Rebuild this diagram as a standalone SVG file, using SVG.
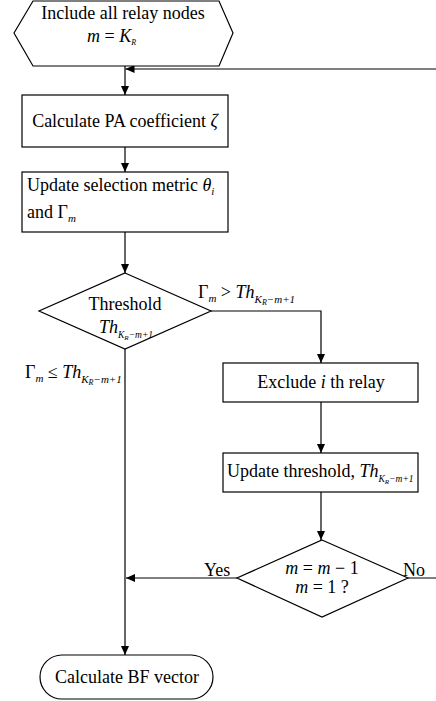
<svg xmlns="http://www.w3.org/2000/svg" width="436" height="701" viewBox="0 0 436 701" font-family="'Liberation Serif', serif">
<style>
.shape{fill:#fff;stroke:#000;stroke-width:1.2}
.line{fill:none;stroke:#000;stroke-width:1.2}
text{font-family:"Liberation Serif",serif;font-size:18px;fill:#000}
.c{text-anchor:middle}
.i{font-style:italic}
.s{font-size:11px;font-style:italic}
.ss{font-size:8px;font-style:italic}
.s2{font-size:9.5px;font-style:italic}
.ss2{font-size:7px;font-style:italic}
</style>
<defs>
<marker id="arr" markerWidth="10" markerHeight="8" refX="9" refY="4" orient="auto" markerUnits="userSpaceOnUse">
<path d="M0,0 L9,4 L0,8 Z" fill="#000"/>
</marker>
</defs>
<rect width="436" height="701" fill="#fff"/>
<g id="connectors">
<line class="line" x1="125" y1="66" x2="125" y2="95" marker-end="url(#arr)"/>
<path class="line" d="M408,578 L440,578 L440,69 L125.5,69" marker-end="url(#arr)"/>
<line class="line" x1="125" y1="147" x2="125" y2="172" marker-end="url(#arr)"/>
<line class="line" x1="125" y1="232" x2="125" y2="273" marker-end="url(#arr)"/>
<path class="line" d="M211,311 L321,311 L321,363" marker-end="url(#arr)"/>
<line class="line" x1="125" y1="349" x2="125" y2="655" marker-end="url(#arr)"/>
<line class="line" x1="321" y1="402" x2="321" y2="453" marker-end="url(#arr)"/>
<line class="line" x1="321" y1="492" x2="321" y2="540" marker-end="url(#arr)"/>
<line class="line" x1="237" y1="578" x2="126" y2="578" marker-end="url(#arr)"/>
<text x="198" y="298">Γ<tspan class="s" dy="4">m</tspan><tspan dy="-4"> &gt; </tspan><tspan class="i">Th</tspan><tspan class="s" dy="5">K</tspan><tspan class="ss" dy="2">R</tspan><tspan class="s" dy="-2">−m+1</tspan></text>
<text x="25" y="378">Γ<tspan class="s" dy="4">m</tspan><tspan dy="-4"> ≤ </tspan><tspan class="i">Th</tspan><tspan class="s" dy="5">K</tspan><tspan class="ss" dy="2">R</tspan><tspan class="s" dy="-2">−m+1</tspan></text>
<text x="204" y="576">Yes</text>
<text x="403" y="576">No</text>
</g>
<g id="start">
<polygon class="shape" points="14,33 33,1 219,1 233,33 219,66 33,66"/>
<text x="123" y="19" class="c">Include all relay nodes</text>
<text x="87" y="42"><tspan class="i">m</tspan> = <tspan class="i">K</tspan><tspan class="ss" dy="3">R</tspan></text>
</g>
<g id="pa">
<rect class="shape" x="22" y="95" width="206" height="52"/>
<text x="125" y="127" class="c">Calculate PA coefficient <tspan class="i">ζ</tspan></text>
</g>
<g id="update-metric">
<rect class="shape" x="22" y="172" width="206" height="60"/>
<text x="27" y="191" font-size="17.5">Update selection metric <tspan class="i">θ</tspan><tspan class="s" dy="4">i</tspan></text>
<text x="27" y="218">and Γ<tspan class="s" dy="4">m</tspan></text>
</g>
<g id="threshold">
<polygon class="shape" points="125,273 211,311 125,349 39,311"/>
<text x="125" y="310" class="c">Threshold</text>
<text x="99" y="333"><tspan class="i">Th</tspan><tspan class="s2" dy="5">K</tspan><tspan class="ss2" dy="2">R</tspan><tspan class="s2" dy="-2">−m+1</tspan></text>
</g>
<g id="exclude">
<rect class="shape" x="223" y="363" width="195" height="39"/>
<text x="321" y="388" class="c">Exclude <tspan class="i">i</tspan> th relay</text>
</g>
<g id="update-threshold">
<rect class="shape" x="223" y="453" width="195" height="39"/>
<text x="227" y="477" font-size="16.5">Update threshold, <tspan class="i">Th</tspan><tspan class="s2" dy="5">K</tspan><tspan class="ss2" dy="2">R</tspan><tspan class="s2" dy="-2">−m+1</tspan></text>
</g>
<g id="decrement">
<polygon class="shape" points="322,540 408,578 322,617 237,578"/>
<text x="322" y="574" class="c"><tspan class="i">m</tspan> = <tspan class="i">m</tspan> − 1</text>
<text x="322" y="593" class="c"><tspan class="i">m</tspan> = 1 ?</text>
</g>
<g id="bf">
<rect class="shape" x="40" y="655" width="173" height="44" rx="22" ry="22"/>
<text x="127" y="683" class="c">Calculate BF vector</text>
</g>
</svg>
